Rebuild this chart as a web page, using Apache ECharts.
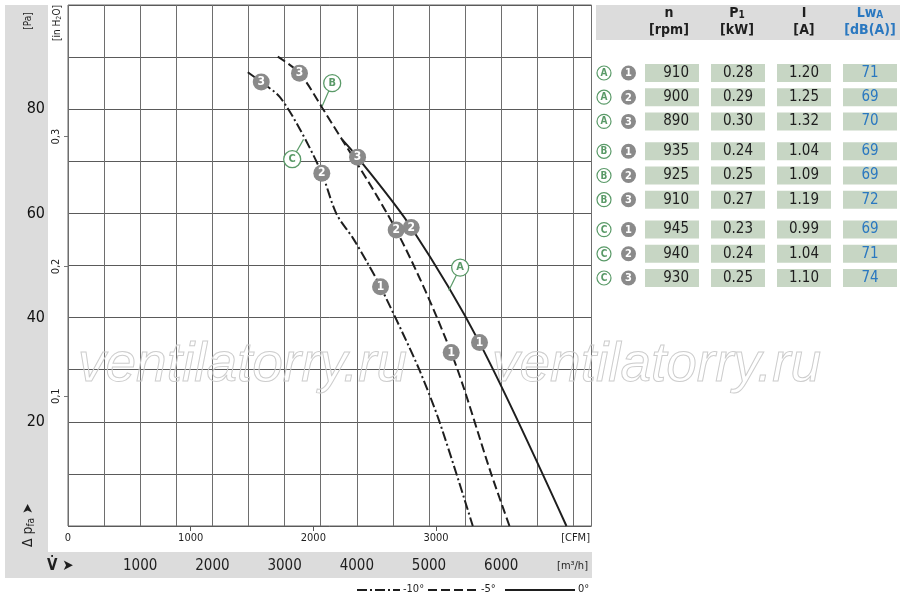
<!DOCTYPE html>
<html>
<head>
<meta charset="utf-8">
<title>Fan curve</title>
<script src="https://cdn.jsdelivr.net/npm/echarts@6/dist/echarts.min.js"></script>
<style>
  html, body { margin: 0; padding: 0; background: #fff; }
  #chart { width: 900px; height: 600px; }
</style>
</head>
<body>
<div id="chart"></div>
<script>
// curves: flow in m3/h, pressure in Pa
var flowA = [3801, 4009, 4753, 5699, 6903];
var pressA = [74.1, 70.8, 57.3, 35.2, 0];
var flowB = [2905, 3206, 3524, 4545, 5307, 5861, 6114];
var pressB = [90.1, 86.9, 80.2, 56.8, 33.3, 10.0, 0];
var flowC = [2490, 2676, 2929, 3206, 3515, 3718, 3944, 4148, 4328, 4636, 4868, 5145, 5606];
var pressC = [87.1, 85.2, 82.4, 76.3, 67.7, 59.9, 55.3, 50.5, 45.9, 37.0, 29.9, 20.0, 0];

// operating points 1..3 on each curve
var markFlow = [5699, 4753, 4010, 5307, 4545, 3206, 4328, 3515, 2676];
var markPress = [35.2, 57.3, 70.8, 33.3, 56.8, 86.9, 45.9, 67.7, 85.2];
var markNum = ['1', '2', '3', '1', '2', '3', '1', '2', '3'];

// curve tags A/B/C and where their pointer touches the curve
var tagLetter = ['A', 'B', 'C'];
var tagFlow = [5431, 3659, 3105];
var tagPress = [49.6, 85.0, 70.4];
var tipFlow = [5274, 3521, 3262];
var tipPress = [45.2, 80.6, 74.2];

// axis ticks
var cfmTicks = [0, 1000, 2000, 3000];
var m3hTicks = [1000, 2000, 3000, 4000, 5000, 6000];
var inH2OTicks = [0.1, 0.2, 0.3];
var paTicks = [20, 40, 60, 80];

// table
var rowLetter = ['A', 'A', 'A', 'B', 'B', 'B', 'C', 'C', 'C'];
var rowNum = ['1', '2', '3', '1', '2', '3', '1', '2', '3'];
var speedRpm = [910, 900, 890, 935, 925, 910, 945, 940, 930];
var powerKw = [0.28, 0.29, 0.30, 0.24, 0.25, 0.27, 0.23, 0.24, 0.25];
var currentA = [1.20, 1.25, 1.32, 1.04, 1.09, 1.19, 0.99, 1.04, 1.10];
var soundDb = [71, 69, 70, 69, 69, 72, 69, 71, 74];

var legendNames = ['-10°', '-5°', '0°'];

var FONT = '"Liberation Sans Narrow", "DejaVu Sans Condensed", "Roboto Condensed", "Liberation Sans", sans-serif';
var GREEN = '#5a9a68';
var BAND = '#dcdcdc';
var CELL = '#c7d6c4';
var BLUE = '#2a78c0';
var INK = '#1e1e1e';

var X_MAX = 7250;          // m3/h at right edge
var Y_MAX = 100;           // Pa at top

function pairs(xs, ys) {
    return xs.map(function (x, i) { return [x, ys[i]]; });
}
function plain(v) { return String(v); }

var dom = document.getElementById('chart');
var myChart = echarts.init(dom);

// --- graphic: bands, labels, watermark, table, legend ---
var g = [];
g.push({ type: 'rect', z: -10, shape: { x: 5, y: 5, width: 43, height: 573 }, style: { fill: BAND } });
g.push({ type: 'rect', z: -10, shape: { x: 5, y: 552, width: 587, height: 26 }, style: { fill: BAND } });

function txt(x, y, text, opt) {
    opt = opt || {};
    return {
        type: 'text', x: x, y: y, z: opt.z || 20, rotation: opt.rotation || 0,
        style: {
            text: text,
            fontFamily: opt.family || FONT,
            fontSize: opt.size || 12,
            fontWeight: opt.weight || 'normal',
            fill: opt.color || INK,
            align: opt.align || 'center', textAlign: opt.align || 'center',
            verticalAlign: 'middle', textVerticalAlign: 'middle',
            rich: opt.rich
        }
    };
}

g.push(txt(28, 21, '[Pa]', { rotation: Math.PI / 2, size: 10 }));
g.push(txt(57, 23, '[in H{s|2}O]', { rotation: Math.PI / 2, size: 10, rich: { s: { fontSize: 7, fontFamily: FONT, padding: [4, 0, 0, 0] } } }));
g.push(txt(28, 547, '∆ p{s|fa} ➤', { rotation: Math.PI / 2, size: 14, align: 'left', rich: { s: { fontSize: 10, fontFamily: FONT, padding: [6, 0, 0, 0] } } }));
g.push(txt(47, 566, 'V̇ ➤', { size: 15, align: 'left', weight: 'bold' }));
g.push(txt(590, 538, '[CFM]', { size: 11, align: 'right' }));
g.push(txt(588, 566, '[m³/h]', { size: 11, align: 'right' }));

// watermark, outlined
[78, 492].forEach(function (x) {
    g.push({
        type: 'text', x: x, y: 393, z: 1,
        style: {
            text: 'ventilatorry.ru',
            fontFamily: '"Liberation Sans", Arial, sans-serif',
            fontSize: 55, fontStyle: 'italic',
            fill: 'rgba(255,255,255,0)', stroke: '#cdcdcd', lineWidth: 1,
            align: 'left', textAlign: 'left',
            verticalAlign: 'bottom', textVerticalAlign: 'bottom'
        }
    });
});

// table header
g.push({ type: 'rect', z: -10, shape: { x: 596, y: 5, width: 304, height: 35 }, style: { fill: BAND } });
var hdr = { size: 14, weight: 'bold' };
g.push(txt(669, 13, 'n', hdr));
g.push(txt(669, 30, '[rpm]', hdr));
g.push(txt(737, 13, 'P{s|1}', { size: 14, weight: 'bold', rich: { s: { fontSize: 10, fontWeight: 'bold', fontFamily: FONT, padding: [5, 0, 0, 0] } } }));
g.push(txt(737, 30, '[kW]', hdr));
g.push(txt(804, 13, 'I', hdr));
g.push(txt(804, 30, '[A]', hdr));
g.push(txt(870, 13, 'Lw{s|A}', { size: 14, weight: 'bold', color: BLUE, rich: { s: { fontSize: 10, fontWeight: 'bold', color: BLUE, fontFamily: FONT, padding: [5, 0, 0, 0] } } }));
g.push(txt(870, 30, '[dB(A)]', { size: 14, weight: 'bold', color: BLUE }));

// table rows
var cols = [[645, 54], [711, 54], [777, 54], [843, 54]];
speedRpm.forEach(function (v, i) {
    var y = 73 + Math.floor(i / 3) * 78.3 + (i % 3) * 24.2;
    cols.forEach(function (c) {
        g.push({ type: 'rect', z: 2, shape: { x: c[0], y: y - 9, width: c[1], height: 18 }, style: { fill: CELL } });
    });
    g.push({ type: 'circle', z: 3, shape: { cx: 604, cy: y, r: 7 }, style: { fill: '#fff', stroke: GREEN, lineWidth: 1.2 } });
    g.push(txt(604, y + 0.5, rowLetter[i], { size: 10, weight: 'bold', color: GREEN }));
    g.push({ type: 'circle', z: 3, shape: { cx: 628.5, cy: y, r: 7.5 }, style: { fill: '#8a8a8a' } });
    g.push(txt(628.5, y + 0.5, rowNum[i], { size: 11, weight: 'bold', color: '#fff' }));
    g.push(txt(689, y, String(v), { size: 15, align: 'right' }));
    g.push(txt(738, y, powerKw[i].toFixed(2), { size: 15 }));
    g.push(txt(804, y, currentA[i].toFixed(2), { size: 15 }));
    g.push(txt(870, y, String(soundDb[i]), { size: 15, color: BLUE }));
});

// legend at the bottom
var legendLines = [[357, 400, [10, 3, 2, 3]], [428, 478, [9, 4]], [505, 575, null]];
legendLines.forEach(function (l, i) {
    g.push({ type: 'line', z: 5, shape: { x1: l[0], y1: 590, x2: l[1], y2: 590 }, style: { stroke: INK, lineWidth: 2, lineDash: l[2] } });
    g.push(txt(l[1] + 3, 589, legendNames[i], { size: 11, align: 'left' }));
});

// --- series ---
var curveStyle = [
    { name: legendNames[0], data: pairs(flowC, pressC), type: [10, 3, 2, 3] },
    { name: legendNames[1], data: pairs(flowB, pressB), type: [9, 4] },
    { name: legendNames[2], data: pairs(flowA, pressA), type: 'solid' }
];
var series = curveStyle.map(function (c) {
    return {
        name: c.name, type: 'line', smooth: 0.3, symbol: 'none', z: 3,
        data: c.data,
        lineStyle: { color: INK, width: 2, type: c.type }
    };
});

tagLetter.forEach(function (t, i) {
    series.push({
        type: 'line', symbol: 'none', z: 4, silent: true,
        data: [[tagFlow[i], tagPress[i]], [tipFlow[i], tipPress[i]]],
        lineStyle: { color: GREEN, width: 1.2 }
    });
});

series.push({
    type: 'scatter', z: 6, symbolSize: 17,
    data: markFlow.map(function (x, i) { return { value: [x, markPress[i]], name: markNum[i] }; }),
    itemStyle: { color: '#8a8a8a', opacity: 1 },
    label: { show: true, position: 'inside', formatter: '{b}', color: '#fff', fontSize: 12, fontWeight: 'bold', fontFamily: FONT }
});

series.push({
    type: 'scatter', z: 6, symbolSize: 17,
    data: tagFlow.map(function (x, i) { return { value: [x, tagPress[i]], name: tagLetter[i] }; }),
    itemStyle: { color: '#fff', borderColor: GREEN, borderWidth: 1.3, opacity: 1 },
    label: { show: true, position: 'inside', formatter: '{b}', color: GREEN, fontSize: 11, fontWeight: 'bold', fontFamily: FONT }
});

var option = {
    animation: false,
    backgroundColor: '#fff',
    grid: {
        left: 68, top: 5, width: 523.5, height: 521,
        show: true, borderColor: '#666', borderWidth: 1, backgroundColor: 'rgba(0,0,0,0)'
    },
    xAxis: [
        {
            // grid lines every 500 m3/h
            type: 'value', min: 0, max: X_MAX, interval: 500,
            axisLine: { show: false }, axisTick: { show: false }, axisLabel: { show: false },
            splitLine: { show: true, lineStyle: { color: '#6e6e6e', width: 1 } }
        },
        {
            // CFM scale right under the plot
            type: 'value', min: 0, max: X_MAX / 1.699, position: 'bottom',
            axisLine: { show: false },
            axisTick: { show: true, length: 5, customValues: [1000, 2000, 3000], lineStyle: { color: '#555' } },
            axisLabel: { show: true, customValues: cfmTicks, margin: 7, fontSize: 11, color: INK, fontFamily: FONT, formatter: plain },
            splitLine: { show: false }
        },
        {
            // m3/h scale in the gray band
            type: 'value', min: 0, max: X_MAX, position: 'bottom', offset: 31,
            axisLine: { show: false }, axisTick: { show: false },
            axisLabel: { show: true, customValues: m3hTicks, margin: 2, fontSize: 15, color: INK, fontFamily: FONT, formatter: plain },
            splitLine: { show: false }
        }
    ],
    yAxis: [
        {
            type: 'value', min: 0, max: Y_MAX, interval: 10,
            axisLine: { show: false }, axisTick: { show: false },
            axisLabel: {
                show: true, margin: 23, fontSize: 16, fontWeight: 500, color: '#111', fontFamily: FONT,
                formatter: function (v) { return paTicks.indexOf(v) >= 0 ? String(v) : ''; }
            },
            splitLine: { show: true, lineStyle: { color: '#5a5a5a', width: 1 } }
        },
        {
            type: 'value', min: 0, max: Y_MAX / 249.089, position: 'left',
            axisLine: { show: false },
            axisTick: { show: true, length: 4, customValues: inH2OTicks, lineStyle: { color: '#777' } },
            axisLabel: {
                show: true, customValues: inH2OTicks, rotate: 90, margin: 6, fontSize: 11, color: INK, fontFamily: FONT,
                formatter: function (v) { return String(v).replace('.', ','); }
            },
            splitLine: { show: false }
        }
    ],
    graphic: { elements: g },
    series: series
};

if (option && typeof option === 'object') {
    myChart.setOption(option, true);
}
</script>
</body>
</html>
